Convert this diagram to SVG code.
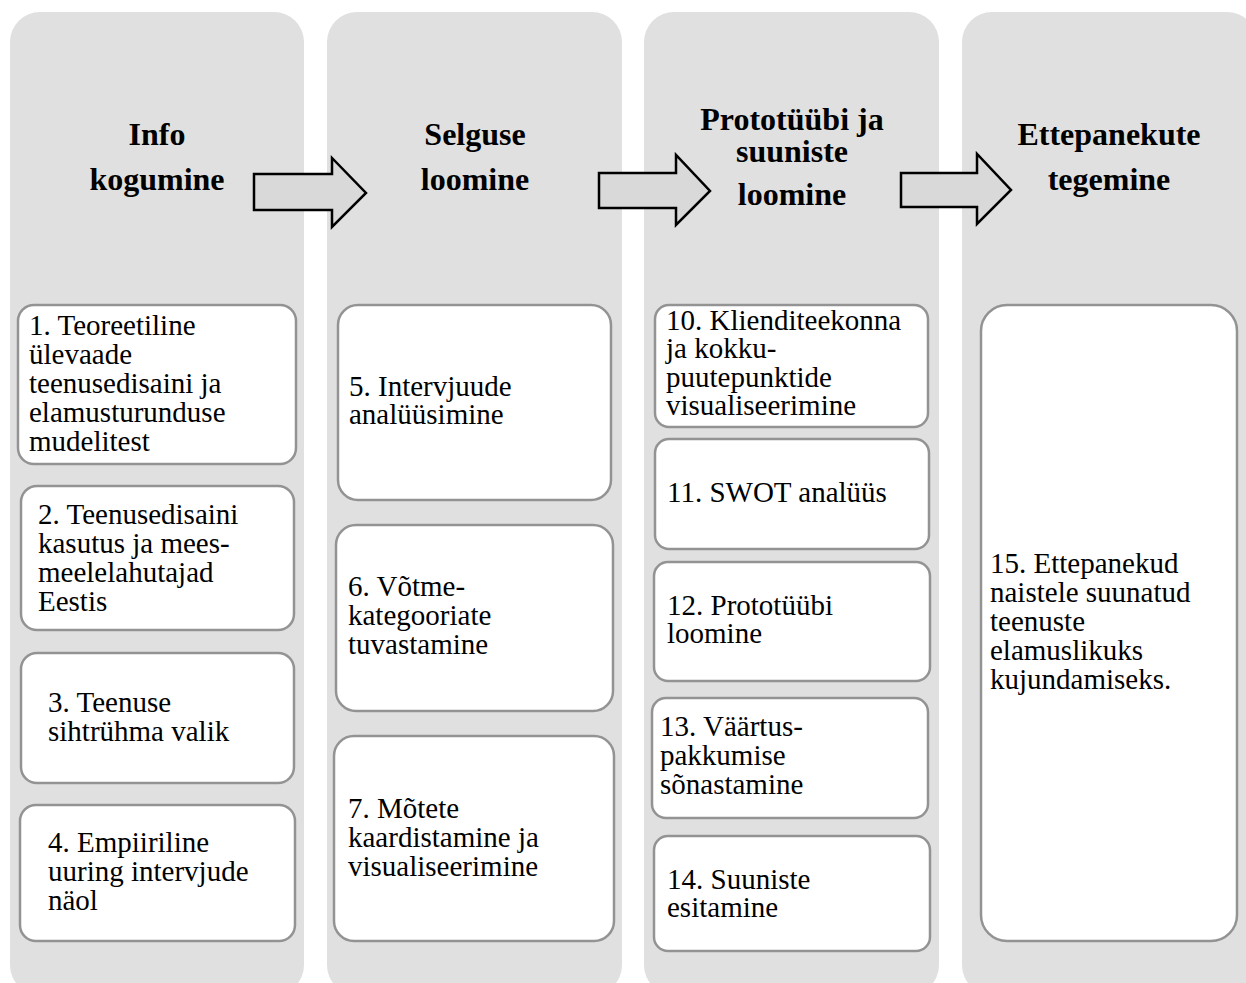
<svg xmlns="http://www.w3.org/2000/svg" width="1246" height="983" viewBox="0 0 1246 983">
  <style>
    .col { fill: #e0e0e0; }
    .box { fill: #ffffff; stroke: #939393; stroke-width: 2.5; }
    .arrow { fill: #d9d9d9; stroke: #000000; stroke-width: 2.5; stroke-linejoin: miter; }
    .title { font-family: "Liberation Serif", "Times New Roman", serif; font-size: 32px; font-weight: bold; fill: #000; text-anchor: middle; }
    .body { font-family: "Liberation Serif", "Times New Roman", serif; font-size: 29px; fill: #000; }
  </style>

  <rect width="1246" height="983" fill="#ffffff"/>

  <!-- phase columns -->
  <g id="phase-info">
    <rect class="col" x="10" y="12" width="294" height="983" rx="30"/>
    <text class="title"><tspan x="157" y="145">Info</tspan><tspan x="157" y="190">kogumine</tspan></text>
  </g>
  <g id="phase-selgus">
    <rect class="col" x="327" y="12" width="295" height="983" rx="30"/>
    <text class="title"><tspan x="475" y="145">Selguse</tspan><tspan x="475" y="190">loomine</tspan></text>
  </g>
  <g id="phase-prototyyp">
    <rect class="col" x="644" y="12" width="295" height="983" rx="30"/>
    <text class="title"><tspan x="792" y="130">Prototüübi ja</tspan><tspan x="792" y="162">suuniste</tspan><tspan x="792" y="205">loomine</tspan></text>
  </g>
  <g id="phase-ettepanekud">
    <rect class="col" x="962" y="12" width="295" height="983" rx="30"/>
    <text class="title"><tspan x="1109" y="145">Ettepanekute</tspan><tspan x="1109" y="190">tegemine</tspan></text>
  </g>

  <!-- arrows between phases -->
  <g id="connectors">
    <polygon class="arrow" points="254,174 332,174 332,158 366,193 332,227 332,210 254,210"/>
    <polygon class="arrow" points="599,173 676,173 676,155 710,191 676,225 676,208 599,208"/>
    <polygon class="arrow" points="901,173 977,173 977,154 1011,190 977,224 977,207 901,207"/>
  </g>

  <!-- step 1-4 -->
  <g id="step-1">
    <rect class="box" x="18" y="305" width="278" height="159" rx="16"/>
    <text class="body"><tspan x="29" y="335">1. Teoreetiline</tspan><tspan x="29" y="364">ülevaade</tspan><tspan x="29" y="393">teenusedisaini ja</tspan><tspan x="29" y="422">elamusturunduse</tspan><tspan x="29" y="451">mudelitest</tspan></text>
  </g>
  <g id="step-2">
    <rect class="box" x="21" y="486" width="273" height="144" rx="16"/>
    <text class="body"><tspan x="38" y="524">2. Teenusedisaini</tspan><tspan x="38" y="553">kasutus ja mees-</tspan><tspan x="38" y="582">meelelahutajad</tspan><tspan x="38" y="611">Eestis</tspan></text>
  </g>
  <g id="step-3">
    <rect class="box" x="21" y="653" width="273" height="130" rx="16"/>
    <text class="body"><tspan x="48" y="712">3. Teenuse</tspan><tspan x="48" y="741">sihtrühma valik</tspan></text>
  </g>
  <g id="step-4">
    <rect class="box" x="20" y="805" width="275" height="136" rx="16"/>
    <text class="body"><tspan x="48" y="852">4. Empiiriline</tspan><tspan x="48" y="881">uuring intervjude</tspan><tspan x="48" y="910">näol</tspan></text>
  </g>

  <!-- step 5-7 -->
  <g id="step-5">
    <rect class="box" x="338" y="305" width="273" height="195" rx="20"/>
    <text class="body"><tspan x="349" y="396">5. Intervjuude</tspan><tspan x="349" y="424">analüüsimine</tspan></text>
  </g>
  <g id="step-6">
    <rect class="box" x="336" y="525" width="277" height="186" rx="20"/>
    <text class="body"><tspan x="348" y="596">6. Võtme-</tspan><tspan x="348" y="625">kategooriate</tspan><tspan x="348" y="654">tuvastamine</tspan></text>
  </g>
  <g id="step-7">
    <rect class="box" x="334" y="736" width="280" height="205" rx="20"/>
    <text class="body"><tspan x="348" y="818">7. Mõtete</tspan><tspan x="348" y="847">kaardistamine ja</tspan><tspan x="348" y="876">visualiseerimine</tspan></text>
  </g>

  <!-- step 10-14 -->
  <g id="step-10">
    <rect class="box" x="655" y="305" width="273" height="122" rx="14"/>
    <text class="body"><tspan x="666" y="330">10. Klienditeekonna</tspan><tspan x="666" y="358">ja kokku-</tspan><tspan x="666" y="387">puutepunktide</tspan><tspan x="666" y="415">visualiseerimine</tspan></text>
  </g>
  <g id="step-11">
    <rect class="box" x="655" y="439" width="274" height="110" rx="14"/>
    <text class="body"><tspan x="667" y="502">11. SWOT analüüs</tspan></text>
  </g>
  <g id="step-12">
    <rect class="box" x="654" y="562" width="276" height="119" rx="14"/>
    <text class="body"><tspan x="667" y="615">12. Prototüübi</tspan><tspan x="667" y="643">loomine</tspan></text>
  </g>
  <g id="step-13">
    <rect class="box" x="652" y="698" width="276" height="120" rx="14"/>
    <text class="body"><tspan x="660" y="736">13. Väärtus-</tspan><tspan x="660" y="765">pakkumise</tspan><tspan x="660" y="794">sõnastamine</tspan></text>
  </g>
  <g id="step-14">
    <rect class="box" x="654" y="836" width="276" height="115" rx="14"/>
    <text class="body"><tspan x="667" y="889">14. Suuniste</tspan><tspan x="667" y="917">esitamine</tspan></text>
  </g>

  <!-- step 15 -->
  <g id="step-15">
    <rect class="box" x="981" y="305" width="256" height="636" rx="26"/>
    <text class="body"><tspan x="990" y="573">15. Ettepanekud</tspan><tspan x="990" y="602">naistele suunatud</tspan><tspan x="990" y="631">teenuste</tspan><tspan x="990" y="660">elamuslikuks</tspan><tspan x="990" y="689">kujundamiseks.</tspan></text>
  </g>
</svg>
